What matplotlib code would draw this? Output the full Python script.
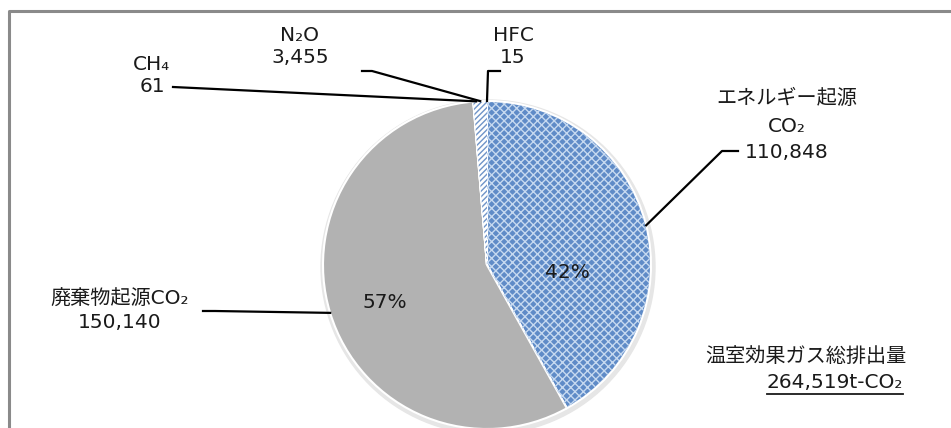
import numpy as np
import matplotlib as mpl
mpl.use('Agg')
import matplotlib.pyplot as plt
from matplotlib.lines import Line2D

plt.rcParams['font.family'] = ['DejaVu Sans', 'Noto Sans CJK JP']
plt.rcParams['hatch.linewidth'] = 1.0

# data (t-CO2), clockwise from the top
names = ['エネルギー起源CO₂', '廃棄物起源CO₂', 'CH₄', 'N₂O', 'HFC']
values = [110848, 150140, 61, 3455, 15]
total_label = '264,519t-CO₂'

W, H = 951, 428
fig = plt.figure(figsize=(W / 100, H / 100), dpi=100)
ax = fig.add_axes([0, 0, 1, 1])

# pie geometry in pixel-like coords (y grows downwards)
cx, cy, r = 487, 265, 164

# faint shadow behind the pie
ax.add_patch(plt.Circle((cx + 1, cy + 2), r + 3, color='#e6e6e6', zorder=0))

face = ['#5f8bc7', '#b2b2b2', '#ffffff', '#ffffff', '#ffffff']
wedges, _ = ax.pie(values, colors=face, startangle=-90, counterclock=True,
                   center=(cx, cy), radius=r, frame=True,
                   wedgeprops=dict(edgecolor='white', linewidth=1.5))
# pattern fills drawn on top
hatch = ['xxxx', None, '//////', '//////', '//////']
hcol = ['#c6d9f0', 'none', '#6f94c8', '#6f94c8', '#6f94c8']
pw, _ = ax.pie(values, colors=['none'] * 5, startangle=-90, counterclock=True,
               center=(cx, cy), radius=r - 1, frame=True,
               wedgeprops=dict(linewidth=0))
for w, h, c in zip(pw, hatch, hcol):
    if h:
        w.set_hatch(h)
        w.set_edgecolor(c)
        w.set_linewidth(0)

ax.set_xlim(0, W)
ax.set_ylim(H, 0)
ax.set_aspect('auto')
ax.axis('off')

# angles (screen coords, ccw positive) of each wedge
fr = np.array(values) / sum(values)
ends = 90 - 360 * np.cumsum(fr)
starts = np.concatenate([[90], ends[:-1]])


def edge(angle_deg, rr=r):
    a = np.deg2rad(angle_deg)
    return cx + rr * np.cos(a), cy - rr * np.sin(a)


fs = 14.5
txt = dict(ha='center', va='center', fontsize=fs, color='#1a1a1a')
lk = dict(color='black', lw=1.6)

# energy CO2
ax.text(787, 98, 'エネルギー起源', **txt)
ax.text(787, 126, 'CO₂', **txt)
ax.text(787, 152, f'{values[0]:,}', **txt)
ex, ey = edge(14)
ax.plot([738, 722, ex], [151, 151, ey], **lk)

# waste CO2
ax.text(120, 299, '廃棄物起源CO₂', **txt)
ax.text(120, 322, f'{values[1]:,}', **txt)
wx, wy = edge((starts[1] + ends[1]) / 2)
ax.plot([203, 215, wx], [311, 311, wy], **lk)

# CH4
ax.text(152, 64, 'CH₄', **txt)
ax.text(152, 86, f'{values[2]:,}', **txt)
hx, hy = edge(starts[2] - 1)
ax.plot([173, hx], [87, hy], **lk)

# N2O
ax.text(300, 35, 'N₂O', **txt)
ax.text(300, 57, f'{values[3]:,}', **txt)
nx, ny = edge((starts[3] + ends[3]) / 2)
ax.plot([362, 372, nx], [71, 71, ny], **lk)

# HFC
ax.text(513, 35, 'HFC', **txt)
ax.text(513, 57, f'{values[4]:,}', **txt)
fx, fy = edge(ends[4])
ax.plot([500, 488, fx], [71, 71, fy], **lk)

# percentages
ax.text(567, 272, f'{fr[0] * 100:.0f}%', **txt)
ax.text(385, 302, f'{fr[1] * 100:.0f}%', **txt)

# total
ax.text(906, 357, '温室効果ガス総排出量', ha='right', va='center',
        fontsize=fs, color='#1a1a1a')
t = ax.text(903, 383, total_label, ha='right', va='center',
            fontsize=fs, color='#1a1a1a')
fig.canvas.draw()
bb = t.get_window_extent()
fig.add_artist(Line2D([bb.x0, bb.x1], [bb.y0 - 1, bb.y0 - 1],
                      transform=None, color='#1a1a1a', lw=1.3))

# outer frame (only top and left are visible)
fig.add_artist(Line2D([9, 9, W], [0, H - 11, H - 11], transform=None,
                      color='#8a8a8a', lw=2.2))

fig.savefig('out.png', dpi=100)
